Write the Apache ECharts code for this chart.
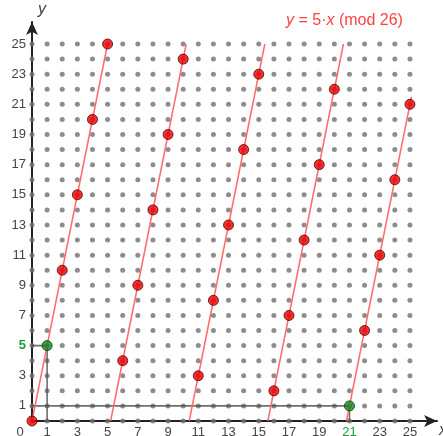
<!DOCTYPE html>
<html>
<head>
<meta charset="utf-8">
<script src="https://cdn.jsdelivr.net/npm/echarts@6/dist/echarts.min.js"></script>
<style>
  html, body { margin: 0; padding: 0; background: #fff; }
  #chart { width: 443px; height: 436px; }
</style>
</head>
<body>
<div id="chart"></div>
<script>
// lattice coordinates (both axes)
var gridValues = [0, 1, 2, 3, 4, 5, 6, 7, 8, 9, 10, 11, 12, 13, 14, 15, 16, 17, 18, 19, 20, 21, 22, 23, 24, 25]
// red points: y for x = 0..25
var redY = [0, 5, 10, 15, 20, 25, 4, 9, 14, 19, 24, 3, 8, 13, 18, 23, 2, 7, 12, 17, 22, 1, 6, 11, 16, 21]
// red line segments [x0, y0, x1, y1]
var redLines = [[0, 0, 5, 25], [5.2, 0, 10.2, 25], [10.4, 0, 15.4, 25], [15.6, 0, 20.6, 25], [20.8, 0, 25.1, 21.5]]
// green points
var greenPts = [[1, 5], [21, 1]]
// dark helper lines
var helperLines = [[0, 1, 21, 1], [21, 0, 21, 1], [1, 0, 1, 5], [0, 5, 1, 5]]
// tick labels shown
var xTickLabels = [0, 1, 3, 5, 7, 9, 11, 13, 15, 17, 19, 21, 23, 25]
var yTickLabels = [1, 3, 5, 7, 9, 11, 13, 15, 17, 19, 21, 23, 25]

var font = 'Liberation Sans, Arial, sans-serif'

var lattice = []
gridValues.forEach(function (x) {
  gridValues.forEach(function (y) { lattice.push([x, y]) })
})

var series = [{
  type: 'scatter',
  data: lattice,
  symbolSize: 5,
  itemStyle: { color: '#707070' },
  silent: true,
  z: 1
}]

helperLines.forEach(function (s) {
  series.push({
    type: 'line',
    data: [[s[0], s[1]], [s[2], s[3]]],
    showSymbol: false,
    lineStyle: { color: '#555', width: 1.6, opacity: 0.85 },
    silent: true,
    z: 2
  })
})

redLines.forEach(function (s) {
  series.push({
    type: 'line',
    data: [[s[0], s[1]], [s[2], s[3]]],
    showSymbol: false,
    lineStyle: { color: '#ff6a6a', width: 1.5 },
    silent: true,
    z: 3
  })
})

series.push({
  type: 'scatter',
  data: gridValues.map(function (x, i) { return [x, redY[i]] }).filter(function (p) {
    return !greenPts.some(function (g) { return g[0] === p[0] && g[1] === p[1] })
  }),
  symbolSize: 10,
  itemStyle: { color: '#ee0000', borderColor: '#550000', borderWidth: 1 },
  z: 4
})

series.push({
  type: 'scatter',
  data: greenPts,
  symbolSize: 10,
  itemStyle: { color: '#138a1e', borderColor: '#0a3a0a', borderWidth: 1 },
  z: 4
})

var chart = echarts.init(document.getElementById('chart'))
chart.setOption({
  animation: false,
  title: {
    text: '{i|y} = 5·{i|x} (mod 26)',
    left: 281,
    top: 8,
    textStyle: {
      fontFamily: font,
      fontSize: 16,
      fontWeight: 'normal',
      color: '#ff4040',
      rich: {
        i: { fontStyle: 'italic', fontFamily: font, fontSize: 16, color: '#ff4040' }
      }
    }
  },
  grid: { left: 32, right: 6, top: 22, bottom: 15, containLabel: false, outerBoundsMode: 'none' },
  xAxis: {
    type: 'value',
    min: 0,
    max: 26.79,
    interval: 1,
    name: 'x',
    nameGap: 2,
    nameTextStyle: { fontFamily: font, fontSize: 16, fontStyle: 'italic', color: '#444', verticalAlign: 'top', padding: [2, 0, 0, 0] },
    axisLine: { lineStyle: { color: '#222', width: 2 }, symbol: ['none', 'arrow'], symbolSize: [9, 13] },
    axisTick: { show: false },
    splitLine: { show: false },
    axisLabel: {
      margin: 5,
      fontFamily: font,
      fontSize: 13,
      color: '#444',
      showMaxLabel: false,
      formatter: function (v) {
        if (xTickLabels.indexOf(v) < 0) return ''
        if (v === 0) return '{z|0}'
        if (v === 21) return '{g|21}'
        return String(v)
      },
      rich: {
        z: { fontFamily: font, fontSize: 13, color: '#444', padding: [0, 24, 0, 0] },
        g: { fontFamily: font, fontSize: 13, color: '#1f9a3a' }
      }
    }
  },
  yAxis: {
    type: 'value',
    min: 0,
    max: 26.46,
    interval: 1,
    name: 'y',
    nameGap: 4,
    nameTextStyle: { fontFamily: font, fontSize: 16, fontStyle: 'italic', color: '#444', align: 'left', padding: [0, 0, 0, 6] },
    axisLine: { lineStyle: { color: '#222', width: 2 }, symbol: ['none', 'arrow'], symbolSize: [9, 13] },
    axisTick: { show: false },
    splitLine: { show: false },
    axisLabel: {
      margin: 6,
      fontFamily: font,
      fontSize: 13,
      color: '#444',
      showMaxLabel: false,
      formatter: function (v) {
        if (yTickLabels.indexOf(v) < 0) return ''
        if (v === 5) return '{g|5}'
        return String(v)
      },
      rich: {
        g: { fontFamily: font, fontSize: 13, color: '#1f9a3a', fontWeight: 'bold' }
      }
    }
  },
  series: series
})
</script>
</body>
</html>
